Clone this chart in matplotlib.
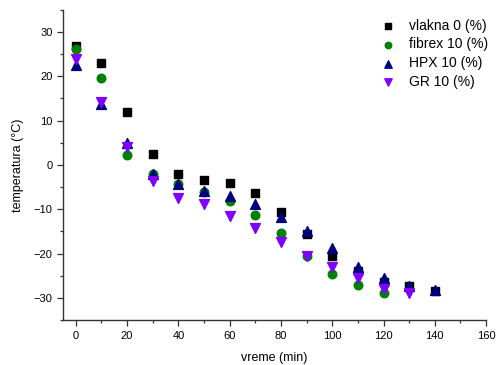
import matplotlib
matplotlib.use("Agg")
import matplotlib.pyplot as plt
from matplotlib.ticker import MultipleLocator

plt.rcParams['font.family'] = ['Liberation Sans', 'DejaVu Sans']

time_vlakna = [0, 10, 20, 30, 40, 50, 60, 70, 80, 90, 100, 110, 120, 130, 140]
temp_vlakna = [26.8, 22.9, 11.9, 2.4, -2.0, -3.5, -4.0, -6.3, -10.5, -15.6, -20.5, -23.9, -26.5, -27.4, -28.5]

time_fibrex = [0, 10, 20, 30, 40, 50, 60, 70, 80, 90, 100, 110, 120]
temp_fibrex = [26.1, 19.7, 2.3, -2.0, -4.4, -6.1, -8.2, -11.3, -15.4, -20.5, -24.5, -27.0, -28.8]

time_hpx = [0, 10, 20, 30, 40, 50, 60, 70, 80, 90, 100, 110, 120, 130, 140]
temp_hpx = [22.5, 13.7, 4.9, -2.1, -4.4, -5.9, -6.9, -8.8, -11.8, -15.0, -18.8, -23.1, -25.5, -27.3, -28.2]

time_gr = [0, 10, 20, 30, 40, 50, 60, 70, 80, 90, 100, 110, 120, 130]
temp_gr = [24.0, 14.2, 4.0, -3.7, -7.4, -8.8, -11.4, -14.2, -17.3, -20.5, -23.0, -25.5, -28.0, -28.8]

labels = ['vlakna 0 (%)', 'fibrex 10 (%)', 'HPX 10 (%)', 'GR 10 (%)']

fig = plt.figure(figsize=(4.96, 3.65), dpi=100)
ax = fig.add_axes([0.127, 0.123, 0.853, 0.850])

ax.scatter(time_vlakna, temp_vlakna, marker='s', s=30, color='black', label=labels[0], zorder=3)
ax.scatter(time_fibrex, temp_fibrex, marker='o', s=38, color='#008000', label=labels[1], zorder=3)
ax.scatter(time_hpx, temp_hpx, marker='^', s=50, color='#000080', label=labels[2], zorder=3)
ax.scatter(time_gr, temp_gr, marker='v', s=50, color='#8000FF', label=labels[3], zorder=3)

ax.set_xlim(-5, 160)
ax.set_ylim(-35, 35)
ax.xaxis.set_major_locator(MultipleLocator(20))
ax.xaxis.set_minor_locator(MultipleLocator(10))
ax.yaxis.set_major_locator(MultipleLocator(10))
ax.yaxis.set_minor_locator(MultipleLocator(5))

for side in ('top', 'right'):
    ax.spines[side].set_visible(False)
for side in ('left', 'bottom'):
    ax.spines[side].set_color('#333333')
    ax.spines[side].set_linewidth(1.0)

ax.tick_params(which='major', direction='out', length=4, width=0.9, color='#333333', labelsize=8)
ax.tick_params(which='minor', direction='out', length=2.5, width=0.9, color='#333333')

ax.set_xlabel('vreme (min)', fontsize=9, labelpad=8)
ax.set_ylabel('temperatura (°C)', fontsize=9, labelpad=7)

ax.legend(loc='upper left', bbox_to_anchor=(0.735, 0.99), frameon=False, fontsize=10,
          handletextpad=0.9, labelspacing=0.35, borderaxespad=0.0, scatterpoints=1,
          markerscale=0.75, handlelength=1.2)

fig.savefig('out.png', dpi=100)
